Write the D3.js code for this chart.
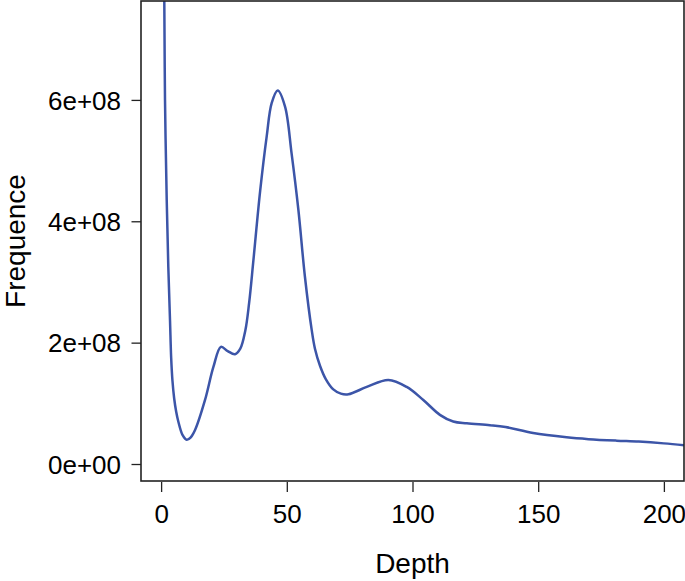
<!DOCTYPE html>
<html>
<head>
<meta charset="utf-8">
<script src="https://cdn.jsdelivr.net/npm/d3@7"></script>
<style>
  body { margin: 0; background: #fff; }
  svg text { font-family: "Liberation Sans", Arial, sans-serif; fill: #000; }
</style>
</head>
<body>
<div class="chart"></div>
<script>
// depth (x) and frequence (y)
var depth = [0, 1.27, 1.55, 2.23, 2.86, 3.54, 4.0, 4.5, 5.2, 6.0, 6.84, 8.5, 10.2, 11.8, 13.5, 17.5, 20.8, 23.8, 26.5, 29.4,
             31.5, 33.5, 35.0, 36.7, 39.4, 42.0, 44.0, 46.4, 49.3, 51.9, 54.6, 57.2, 59.9, 61.2, 63.2, 65.5,
             68.5, 71.5, 74.5, 81.8, 90.4, 97.7, 104.3, 110.9, 116.2, 121.6, 130.8, 137, 148, 161.3, 170, 181.2, 190, 200, 210];
var freq  = [1.2e9, 7.63e8, 6.0e8, 4.35e8, 3.25e8, 2.37e8, 1.75e8, 1.38e8, 1.08e8, 0.86e8, 0.70e8, 0.48e8, 0.40e8, 0.44e8, 0.56e8, 1.06e8, 1.6e8, 1.93e8, 1.86e8, 1.81e8,
             1.90e8, 2.2e8, 2.65e8, 3.35e8, 4.5e8, 5.40e8, 5.95e8, 6.155e8, 5.89e8, 5.12e8, 4.19e8, 3.09e8, 2.21e8, 1.90e8, 1.62e8, 1.40e8,
             1.23e8, 1.16e8, 1.15e8, 1.27e8, 1.385e8, 1.27e8, 1.055e8, 0.81e8, 0.70e8, 0.67e8, 0.64e8, 0.61e8, 0.51e8, 0.44e8, 0.41e8, 0.385e8, 0.37e8, 0.34e8, 0.30e8];
var xTicks = [0, 50, 100, 150, 200];
var yTicks = [0, 2e8, 4e8, 6e8];
var yTickLabels = ["0e+00", "2e+08", "4e+08", "6e+08"];

var width = 685, height = 581;
var box = {left: 141, right: 684, top: 1, bottom: 481};

var svg = d3.select(".chart")
            .append("svg")
            .attr("width", width)
            .attr("height", height);

var x = d3.scaleLinear()
    .domain([-8, 208])
    .range([box.left, box.right]);

var y = d3.scaleLinear()
    .domain([-0.28e8, 7.63e8])
    .range([box.bottom, box.top]);

svg.append("clipPath")
    .attr("id", "clip")
  .append("rect")
    .attr("x", box.left)
    .attr("y", box.top)
    .attr("width", box.right - box.left)
    .attr("height", box.bottom - box.top);

var line = d3.line()
    .x(function(d, i) { return x(depth[i]); })
    .y(function(d) { return y(d); })
    .curve(d3.curveCatmullRom.alpha(0.5));

svg.append("path")
    .datum(freq)
    .attr("clip-path", "url(#clip)")
    .attr("d", line)
    .style("fill", "none")
    .style("stroke", "#3c55a8")
    .style("stroke-width", 2.5);

// frame
svg.append("rect")
    .attr("x", box.left)
    .attr("y", box.top)
    .attr("width", box.right - box.left)
    .attr("height", box.bottom - box.top)
    .style("fill", "none")
    .style("stroke", "#222")
    .style("stroke-width", 1.6);

// x axis
var xAxis = svg.append("g")
    .attr("transform", "translate(0,482)")
    .call(d3.axisBottom(x).tickValues(xTicks).tickSize(10).tickFormat(d3.format("d")));
xAxis.select(".domain").remove();
xAxis.selectAll("line").style("stroke", "#222").style("stroke-width", 1.3);
xAxis.selectAll("text")
    .attr("y", 41)
    .attr("dy", null)
    .style("font-size", "26px");

// y axis
var yAxis = svg.append("g")
    .attr("transform", "translate(141,0)")
    .call(d3.axisLeft(y).tickValues(yTicks).tickSize(9.5)
      .tickFormat(function(d, i) { return yTickLabels[i]; }));
yAxis.select(".domain").remove();
yAxis.selectAll("line").style("stroke", "#222").style("stroke-width", 1.3);
yAxis.selectAll("text")
    .attr("x", -20)
    .attr("dy", "0.35em")
    .style("font-size", "26px");

// axis titles
svg.append("text")
    .attr("x", x(100))
    .attr("y", 573)
    .attr("text-anchor", "middle")
    .style("font-size", "28px")
    .text("Depth");

svg.append("text")
    .attr("transform", "translate(25," + ((box.top + box.bottom) / 2) + ") rotate(-90)")
    .attr("text-anchor", "middle")
    .style("font-size", "28px")
    .text("Frequence");
</script>
</body>
</html>
